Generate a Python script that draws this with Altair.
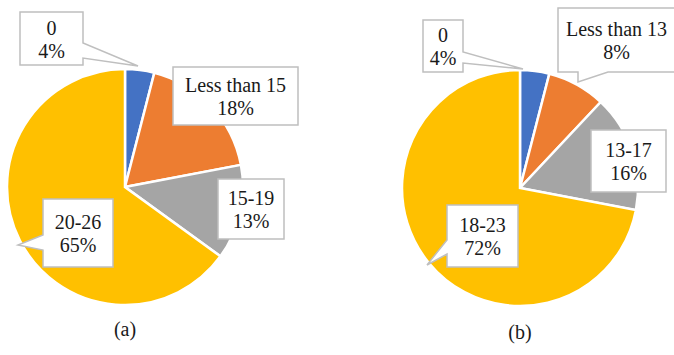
import altair as alt
import pandas as pd

# ---- data ----
labels_a = ["0", "Less than 15", "15-19", "20-26"]
values_a = [4, 18, 13, 65]
labels_b = ["0", "Less than 13", "13-17", "18-23"]
values_b = [4, 8, 16, 72]
slice_colors = ["#4472C4", "#ED7D31", "#A5A5A5", "#FFC000"]
captions = ["(a)", "(b)"]

# ---- layout ----
W, H = 674, 355
pie_centers = [(125, 187), (520, 188)]
pie_radius = 118
caption_pos = [(125, 330), (520, 333)]
LINE_H = 23
# callout boxes: (x0, y0, x1, y1), pointer: (edge, a, b, tipx, tipy) or None
boxes_a = [
    ((20, 12, 83, 65), ("right", 43, 58, 138, 66)),
    ((173, 67, 298, 125), None),
    ((218, 179, 284, 239), None),
    ((43, 199, 113, 267), ("left", 235, 250, 18, 245)),
]
boxes_b = [
    ((423, 20, 463, 72), ("right", 52, 63, 523, 69)),
    ((558, 8, 675, 72), ("bottom", 578, 608, 578, 82)),
    ((591, 130, 666, 192), None),
    ((447, 205, 518, 267), ("left", 240, 254, 427, 265)),
]


def callout_path(box, ptr):
    x0, y0, x1, y1 = box
    cx, cy = (x0 + x1) / 2, (y0 + y1) / 2
    pts = [(x0, y0), (x1, y0)]
    if ptr and ptr[0] == "right":
        _, a, b, tx, ty = ptr
        pts += [(x1, a), (tx, ty), (x1, b)]
    pts.append((x1, y1))
    if ptr and ptr[0] == "bottom":
        _, a, b, tx, ty = ptr
        pts += [(b, y1), (tx, ty), (a, y1)]
    pts.append((x0, y1))
    if ptr and ptr[0] == "left":
        _, a, b, tx, ty = ptr
        pts += [(x0, b), (tx, ty), (x0, a)]
    d = "M" + " L".join(f"{px - cx:.1f},{py - cy:.1f}" for px, py in pts) + " Z"
    return cx, cy, d


rows = []
for lbls, vals, boxes in [(labels_a, values_a, boxes_a), (labels_b, values_b, boxes_b)]:
    for lbl, v, (box, ptr) in zip(lbls, vals, boxes):
        cx, cy, d = callout_path(box, ptr)
        rows.append({"key": f"{len(rows)}", "cx": cx, "cy": cy,
                     "text": f"{lbl}\n{v}%", "path": d})
callouts = pd.DataFrame(rows)

xs = alt.Scale(domain=[0, W], nice=False, zero=False)
ys = alt.Scale(domain=[0, H], nice=False, zero=False, reverse=True)


def pie(labels, values, center):
    df = pd.DataFrame({"cat": labels, "value": values, "slot": list(range(len(labels)))})
    return alt.Chart(df).mark_arc(radius=pie_radius, stroke="white", strokeWidth=2.5).encode(
        theta=alt.Theta("value:Q", stack=True),
        color=alt.Color("slot:N", scale=alt.Scale(domain=[0, 1, 2, 3], range=slice_colors), legend=None),
        order=alt.Order("slot:Q"),
        x=alt.value(center[0]),
        y=alt.value(center[1]),
    )


pie_a = pie(labels_a, values_a, pie_centers[0])
pie_b = pie(labels_b, values_b, pie_centers[1])

boxes = alt.Chart(callouts).mark_point(
    size=4, fill="white", stroke="#BFBFBF", strokeWidth=1.5, opacity=1, fillOpacity=1
).encode(
    x=alt.X("cx:Q", scale=xs, axis=None),
    y=alt.Y("cy:Q", scale=ys, axis=None),
    shape=alt.Shape("key:N", scale=alt.Scale(domain=list(callouts["key"]), range=list(callouts["path"])), legend=None),
)

texts = alt.Chart(callouts).mark_text(
    font="Liberation Serif", fontSize=20, lineHeight=LINE_H, color="#1a1a1a",
    align="center", baseline="middle", lineBreak="\n", dy=-LINE_H / 2 + 1.5
).encode(
    x=alt.X("cx:Q", scale=xs, axis=None),
    y=alt.Y("cy:Q", scale=ys, axis=None),
    text="text:N",
)

cap_df = pd.DataFrame({"cap": captions, "cx": [p[0] for p in caption_pos], "cy": [p[1] for p in caption_pos]})
caps = alt.Chart(cap_df).mark_text(
    font="Liberation Serif", fontSize=20, color="#1a1a1a", align="center", baseline="middle"
).encode(
    x=alt.X("cx:Q", scale=xs, axis=None),
    y=alt.Y("cy:Q", scale=ys, axis=None),
    text="cap:N",
)

chart = alt.layer(pie_a, pie_b, boxes, texts, caps).resolve_scale(
    theta="independent"
).properties(
    width=W, height=H, padding=0, autosize="none", background="white"
).configure_view(stroke=None)

chart.save("out.html", embed_options={"renderer": "svg", "actions": False})
